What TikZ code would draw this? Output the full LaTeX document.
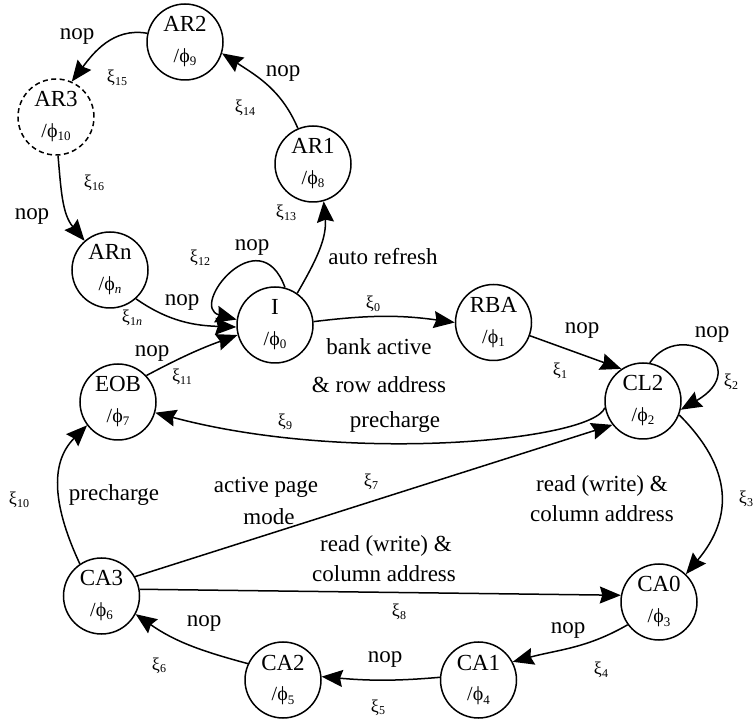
\documentclass[tikz,border=0pt]{standalone}
\usepackage{fontspec}
\setmainfont{Liberation Serif}
\usetikzlibrary{arrows.meta}

% transition guard symbol xi with a lowered index
\newcommand\xsub[1]{ξ\raisebox{-2.5pt}{\fontsize{12}{12}\selectfont #1}}
% output symbol phi with a lowered index
\newcommand\phisub[1]{/ϕ\raisebox{-3pt}{\fontsize{13}{13}\selectfont #1}}

\tikzset{
  stc/.style={circle, draw, line width=1.5pt, minimum size=76pt, inner sep=0pt},
  nm/.style={anchor=base, inner sep=0pt, font=\fontsize{23}{23}\selectfont},
  ph/.style={anchor=base, inner sep=0pt, font=\fontsize{20}{20}\selectfont},
  lbl/.style={anchor=base, inner sep=0pt, font=\fontsize{23}{23}\selectfont},
  xl/.style={anchor=base, inner sep=0pt, font=\fontsize{18}{18}\selectfont},
  tr/.style={line width=1.5pt, -{Stealth[length=21pt,width=17pt,inset=2.5pt]}},
}

% a state: circle, its name and its output
\newcommand\mkstate[5][]{%
  \node[stc,#1] (#2) at (#3) {};
  \node[nm] at ([yshift=10pt]#2.center) {#4};
  \node[ph] at ([yshift=-21pt]#2.center) {\phisub{#5}};
}

\begin{document}
\begin{tikzpicture}[x=1pt,y=1pt]
  \fill[white] (0,0) rectangle (753,721);
  \useasboundingbox (0,0) rectangle (753,721);

  % states
  \mkstate{AR2}{185,679}{AR2}{9}
  \mkstate[dash pattern=on 5pt off 3.5pt]{AR3}{56,604}{AR3}{10}
  \mkstate{AR1}{313,557}{AR1}{8}
  \mkstate{ARn}{110,451}{ARn}{\textit{n}}
  \mkstate{I}{275,396}{I}{0}
  \mkstate{RBA}{493.5,398.5}{RBA}{1}
  \mkstate{CL2}{643,320}{CL2}{2}
  \mkstate{EOB}{118,319}{EOB}{7}
  \mkstate{CA3}{101.5,125}{CA3}{6}
  \mkstate{CA2}{283,41}{CA2}{5}
  \mkstate{CA1}{478.5,41}{CA1}{4}
  \mkstate{CA0}{659,119}{CA0}{3}

  % auto refresh cycle
  \draw[tr] (I.55) to[out=60,in=-85] (AR1.-74);
  \draw[tr] (AR1.113) to[out=113,in=-33] (AR2.-17);
  \draw[tr] (AR2.167) to[out=170,in=53] (AR3.66);
  \draw[tr] (AR3.-87) to[out=-85,in=130] (ARn.131);
  \draw[tr] (ARn.-48) to[out=-35,in=178] (I.183);
  \draw[tr] (I.75) .. controls +(110:75) and +(165:50) .. (I.172);

  % row / column access
  \draw[tr] (EOB.43) to[out=28,in=200] (I.195);
  \draw[tr] (I.5) to[out=7,in=172] (RBA.180);
  \draw[tr] (RBA.-20) -- (CL2.124);
  \draw[tr] (CL2.80) .. controls +(55:55) and +(30:85) .. (CL2.-13);
  \draw[tr] (CL2.190) .. controls +(250:35) and +(-15:200) .. (EOB.-16);
  \draw[tr] (CA3.30) -- (CL2.218);
  \draw[tr] (CA3.10) -- (CA0.170);
  \draw[tr] (CL2.-21) .. controls +(-45:75) and +(50:75) .. (CA0.46);
  \draw[tr] (CA0.216) to[out=210,in=15] (CA1.28);
  \draw[tr] (CA1.176) to[out=185,in=-5] (CA2.5);
  \draw[tr] (CA2.155) to[out=165,in=-35] (CA3.-28);
  \draw[tr] (CA3.124) .. controls +(115:60) and +(225:55) .. (EOB.217);

  % transition labels
  \node[lbl] (t15) at (77,681) {nop};
  \node[xl]  (x15) at (117,638) {\xsub{15}};
  \node[lbl] (t14) at (283,644) {nop};
  \node[xl]  (x14) at (245,608) {\xsub{14}};
  \node[xl]  (x16) at (94,533) {\xsub{16}};
  \node[lbl] (t16) at (32,501) {nop};
  \node[xl]  (x13) at (286,503) {\xsub{13}};
  \node[lbl] (t12) at (252,470) {nop};
  \node[xl]  (x12) at (200,458) {\xsub{12}};
  \node[lbl] (t13) at (383,456) {auto refresh};
  \node[lbl] (t1n) at (182,415) {nop};
  \node[xl]  (x1n) at (132,398) {\xsub{1\textit{n}}};
  \node[lbl] (t11) at (152,364) {nop};
  \node[xl]  (x11) at (182,339) {\xsub{11}};
  \node[xl]  (x0)  at (373,412) {\xsub{0}};
  \node[lbl] (t0a) at (379,366) {bank active};
  \node[lbl] (t0b) at (379,328) {\& row address};
  \node[lbl] (t1)  at (582,387) {nop};
  \node[xl]  (x1)  at (560,345) {\xsub{1}};
  \node[lbl] (t2)  at (712,383) {nop};
  \node[xl]  (x2)  at (731,334) {\xsub{2}};
  \node[xl]  (x9)  at (285,294) {\xsub{9}};
  \node[lbl] (t9)  at (395,293) {precharge};
  \node[xl]  (x10) at (19,216) {\xsub{10}};
  \node[lbl] (t10) at (114,220) {precharge};
  \node[lbl] (t7a) at (266,228) {active page};
  \node[lbl] (t7b) at (269,196) {mode};
  \node[xl]  (x7)  at (371,234) {\xsub{7}};
  \node[lbl] (t8a) at (386,169) {read (write) \&};
  \node[lbl] (t8b) at (384,139) {column address};
  \node[xl]  (x8)  at (399,104) {\xsub{8}};
  \node[lbl] (t3a) at (602,229) {read (write) \&};
  \node[lbl] (t3b) at (602,199) {column address};
  \node[xl]  (x3)  at (746,217) {\xsub{3}};
  \node[lbl] (t4)  at (568,87) {nop};
  \node[xl]  (x4)  at (601,46) {\xsub{4}};
  \node[lbl] (t5)  at (385,59) {nop};
  \node[xl]  (x5)  at (378,9) {\xsub{5}};
  \node[lbl] (t6)  at (204,94) {nop};
  \node[xl]  (x6)  at (159,51) {\xsub{6}};
\end{tikzpicture}
\end{document}
